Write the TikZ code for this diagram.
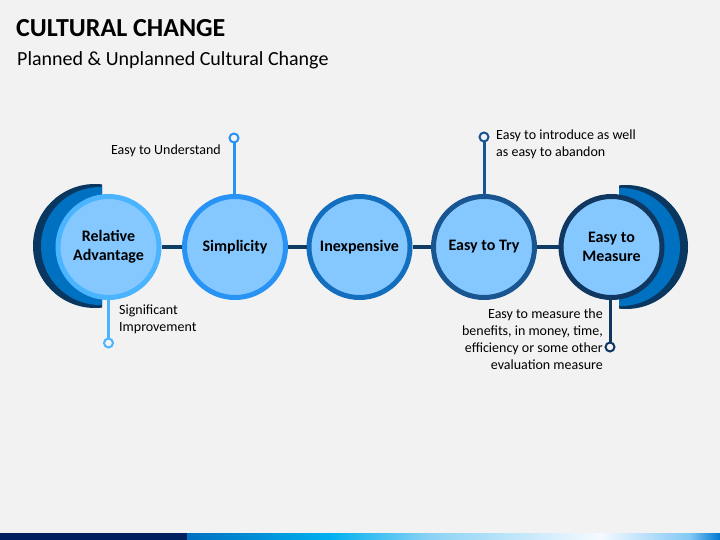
\documentclass[tikz,border=0pt]{standalone}
\usepackage{fontspec}
\setmainfont{Carlito}
\definecolor{bg}{RGB}{242,242,242}
\definecolor{cfill}{RGB}{133,200,255}
\definecolor{bA}{RGB}{75,180,255}
\definecolor{bB}{RGB}{40,146,245}
\definecolor{bC}{RGB}{20,110,190}
\definecolor{bD}{RGB}{25,85,145}
\definecolor{bE}{RGB}{15,55,95}
\definecolor{crdark}{RGB}{10,55,95}
\definecolor{crmid}{RGB}{0,112,192}
\definecolor{conn}{RGB}{15,60,100}
\definecolor{navy}{RGB}{0,32,96}
\definecolor{g1}{RGB}{0,112,192}
\definecolor{g2}{RGB}{0,176,240}
\definecolor{g3}{RGB}{140,210,245}
\definecolor{g4}{RGB}{245,250,255}
\definecolor{g5}{RGB}{130,200,245}
\definecolor{g6}{RGB}{0,120,210}
\tikzset{
  bigcirc/.style={circle, fill=cfill, line width=5pt, minimum size=101pt, inner sep=0pt, align=center, font=\fontsize{16}{19}\selectfont\bfseries},
  linkline/.style={draw=conn, line width=3.5pt},
  calline/.style={line width=3pt},
  marker/.style={circle, fill=bg, line width=2pt, minimum size=9pt, inner sep=0pt},
  caltext/.style={font=\fontsize{14}{16.8}\selectfont, inner sep=0pt}
}
\begin{document}
\begin{tikzpicture}[x=1pt,y=-1pt]
\useasboundingbox (0,0) rectangle (720,540);
\fill[bg] (0,0) rectangle (720,540);
% title
\node[anchor=base west, inner sep=0pt, font=\fontsize{26}{30}\selectfont\bfseries] (title) at (16,37) {CULTURAL CHANGE};
\node[anchor=base west, inner sep=0pt, font=\fontsize{20}{24}\selectfont] (subtitle) at (17,66) {Planned \& Unplanned Cultural Change};
% crescents
\begin{scope}
\clip (0,0) rectangle (102,540);
\fill[crdark] (95,246) circle (62);
\fill[crmid] (100,246) circle (59);
\end{scope}
\begin{scope}
\clip (619,0) rectangle (720,540);
\fill[crdark] (626,247) circle (62);
\fill[crmid] (621,247) circle (59);
\end{scope}
% circles
\node[bigcirc, draw=bA] (c1) at (108.5,247) {Relative\\Advantage};
\node[bigcirc, draw=bB] (c2) at (235,247) {Simplicity};
\node[bigcirc, draw=bC] (c3) at (359.5,247) {Inexpensive};
\node[bigcirc, draw=bD] (c4) at (484,247) {Easy to Try};
\node[bigcirc, draw=bE] (c5) at (611.5,247) {Easy to\\Measure};
% connectors
\draw[linkline] (c1) -- (c2);
\draw[linkline] (c2) -- (c3);
\draw[linkline] (c3) -- (c4);
\draw[linkline] (c4) -- (c5);
% callouts
\node[marker, draw=bA] (m1) at (108.5,343) {};
\node[marker, draw=bB] (m2) at (234,138) {};
\node[marker, draw=bD] (m4) at (484,137) {};
\node[marker, draw=bE] (m5) at (610,347) {};
\draw[calline, draw=bA] (c1.south) -- (m1);
\draw[calline, draw=bB] (c2.north -| m2) -- (m2);
\draw[calline, draw=bD] (c4.north) -- (m4);
\draw[calline, draw=bE] (c5.south -| m5) -- (m5);
\node[caltext, anchor=base east] (t2) at (221,155) {Easy to Understand};
\node[caltext, anchor=north west, align=left] (t1) at (119,305) {Significant\\Improvement};
\node[caltext, anchor=north west, align=left] (t4) at (496,130) {Easy to introduce as well\\as easy to abandon};
\node[caltext, anchor=north east, align=right] (t5) at (603,309) {Easy to measure the\\benefits, in money, time,\\efficiency or some other\\evaluation measure};
% bottom bar
\fill[navy] (0,533) rectangle (187,540);
\shade[left color=g1, right color=g2] (187,533) rectangle (330,540);
\shade[left color=g2, right color=g3] (330,533) rectangle (430,540);
\shade[left color=g3, right color=g4] (430,533) rectangle (600,540);
\shade[left color=g4, right color=g5] (600,533) rectangle (690,540);
\shade[left color=g5, right color=g6] (690,533) rectangle (720,540);
\end{tikzpicture}
\end{document}
